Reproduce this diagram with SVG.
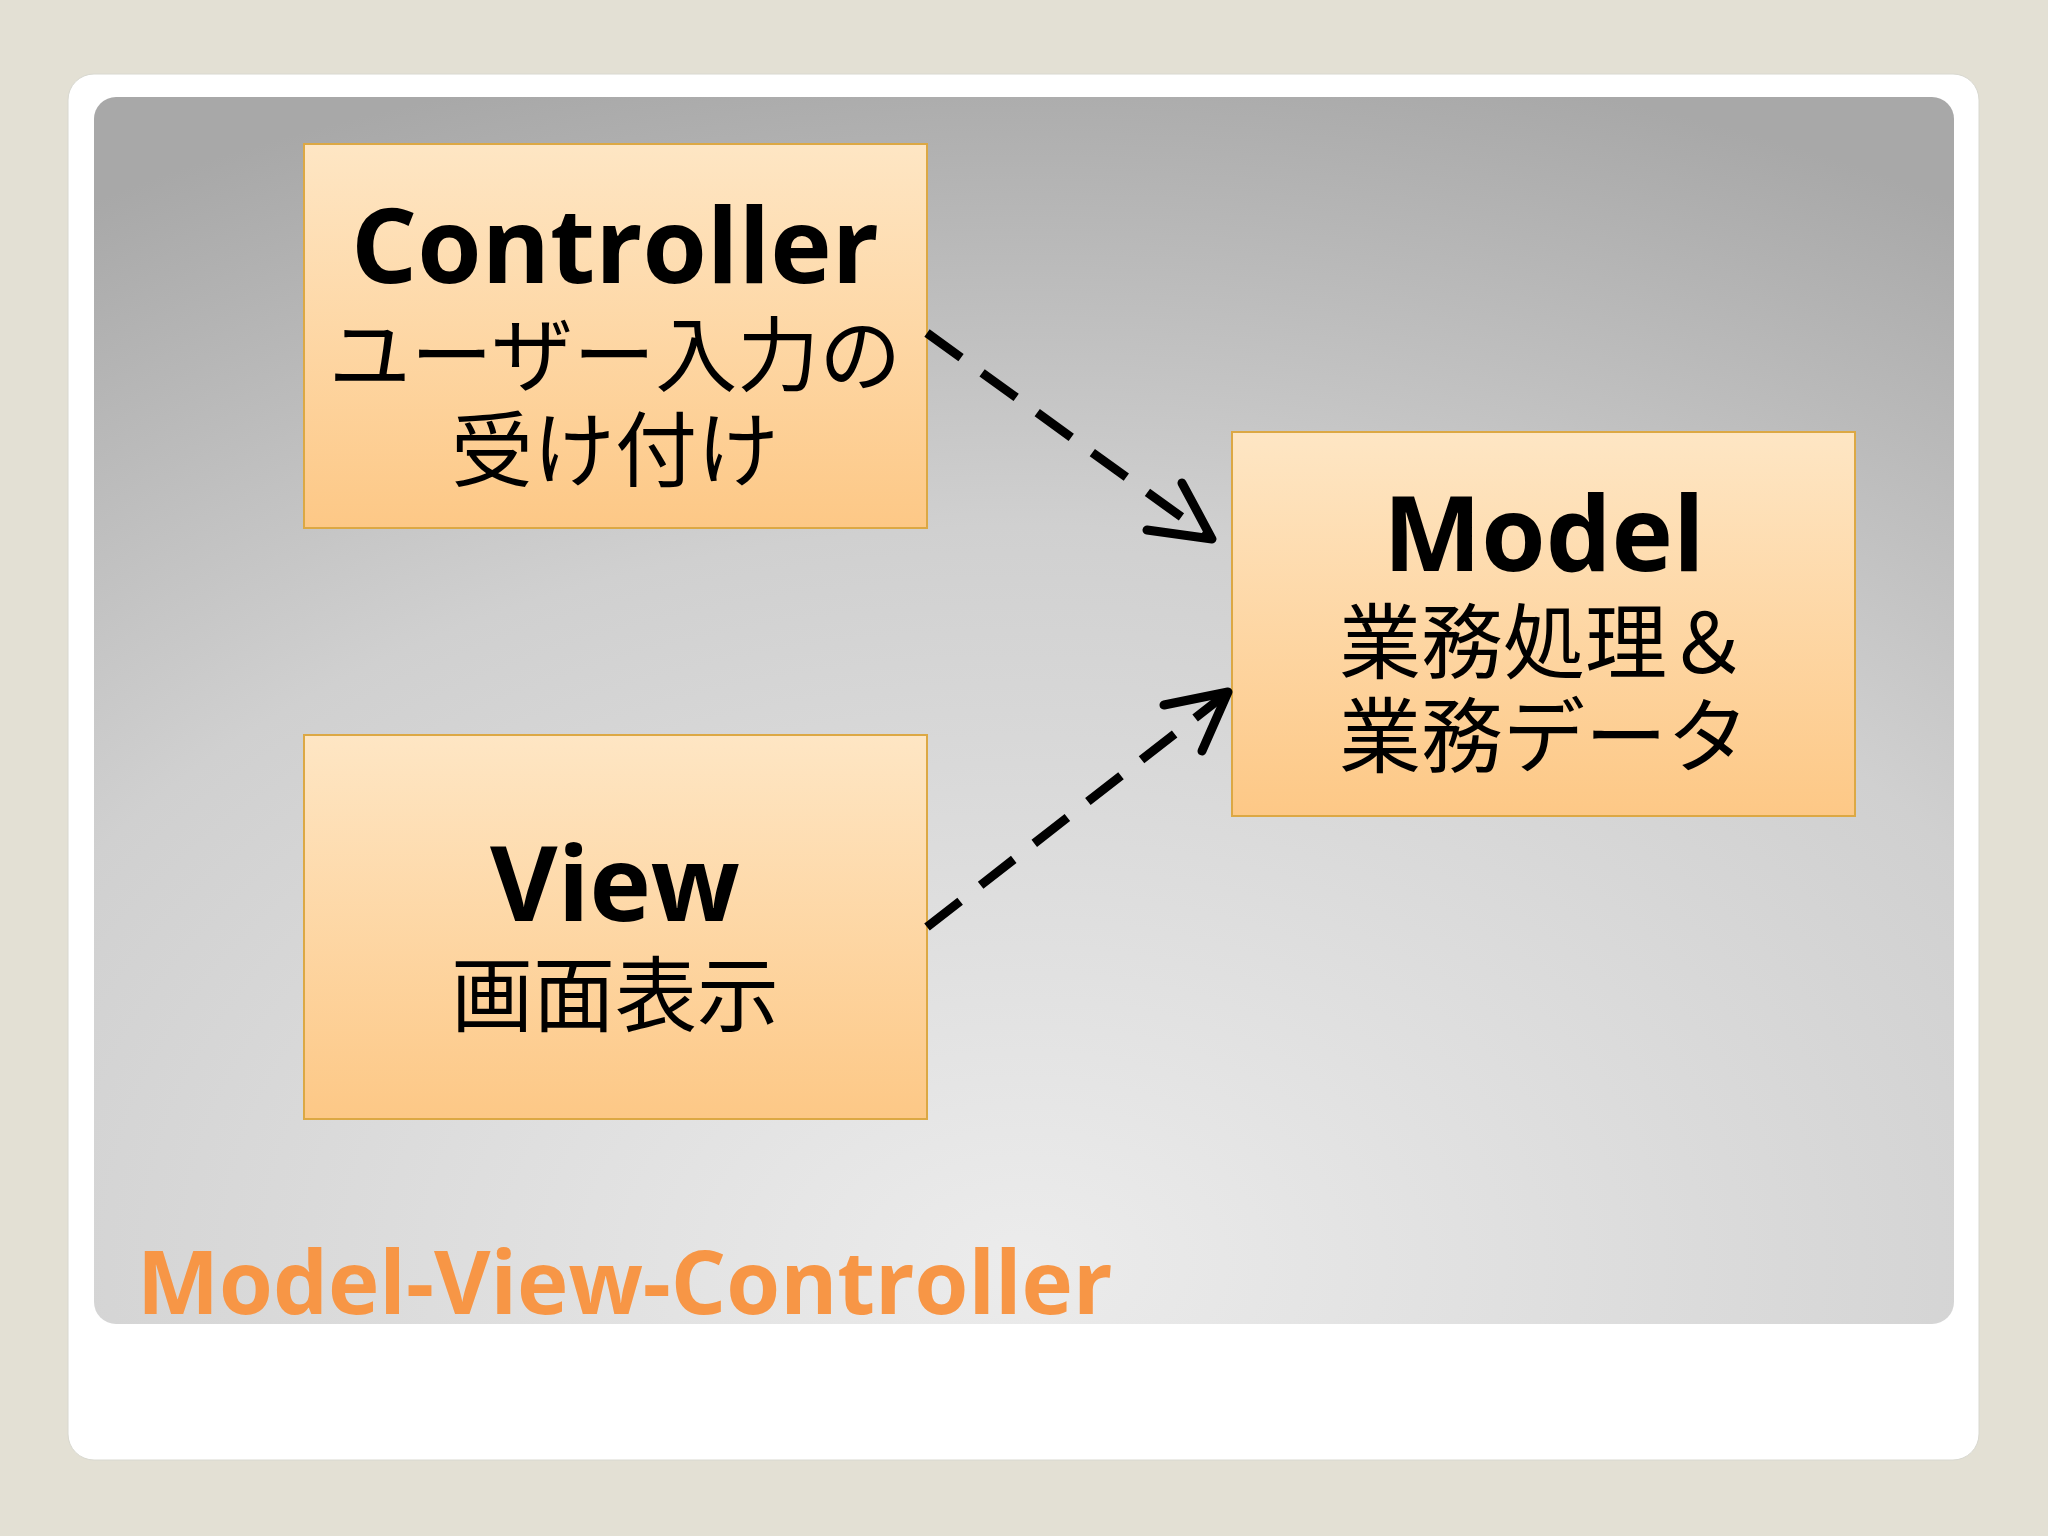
<svg xmlns="http://www.w3.org/2000/svg" width="2048" height="1536" viewBox="0 0 2048 1536">
<defs>
<radialGradient id="bg" cx="0.5" cy="0.95" r="1.0" fx="0.5" fy="0.95">
<stop offset="0" stop-color="#ececec"/><stop offset="0.6" stop-color="#d0d0d0"/><stop offset="1" stop-color="#a8a8a8"/>
</radialGradient>
<linearGradient id="box" x1="0" y1="0" x2="0" y2="1">
<stop offset="0" stop-color="#fee6c4"/><stop offset="1" stop-color="#fdc886"/>
</linearGradient>
</defs>
<style>
.box{fill:url(#box);stroke:#dca844;stroke-width:2}
.t{font-family:"Open Sans","Liberation Sans",sans-serif;font-weight:bold;text-anchor:middle;fill:#000}
.j{font-family:"Noto Sans CJK JP",sans-serif;font-size:82px;text-anchor:middle;fill:#000}
.c{fill:none;stroke:#000;stroke-width:9;stroke-dasharray:42 26}
.h{fill:none;stroke:#000;stroke-width:9;stroke-linecap:round;stroke-linejoin:round}
</style>
<rect width="2048" height="1536" fill="#e3e0d4"/>
<rect x="68" y="74" width="1911" height="1386" rx="26" fill="#fff" stroke="#d8d8d0"/>
<rect x="94" y="97" width="1860" height="1227" rx="22" fill="url(#bg)"/>
<g id="controller"><rect class="box" x="304" y="144" width="623" height="384"/>
<text class="t" x="615" y="283" font-size="104">Controller</text>
<text class="j" x="615" y="385">ユーザー入力の</text>
<text class="j" x="615" y="480">受け付け</text></g>
<g id="view"><rect class="box" x="304" y="735" width="623" height="384"/>
<text class="t" x="615" y="921" font-size="104">View</text>
<text class="j" x="615" y="1025">画面表示</text></g>
<g id="model"><rect class="box" x="1232" y="432" width="623" height="384"/>
<text class="t" x="1544" y="571" font-size="104">Model</text>
<text class="j" x="1544" y="672">業務処理＆</text>
<text class="j" x="1544" y="766">業務データ</text></g>
<g id="connectors">
<path class="c" d="M927,333 L1205,534"/>
<polyline class="h" points="1147,530 1212,539 1182,483"/>
<path class="c" d="M927,927 L1222,697"/>
<polyline class="h" points="1164,705 1228,692 1202,751"/>
</g>
<text x="137" y="1314" font-family="Open Sans,Liberation Sans,sans-serif" font-weight="bold" font-size="87" fill="#f79646">Model-View-Controller</text>
</svg>
